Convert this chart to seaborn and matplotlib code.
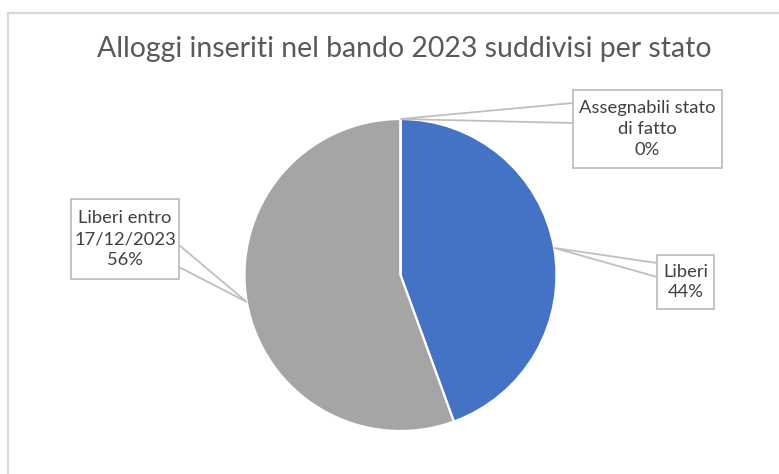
import numpy as np
import matplotlib
matplotlib.use("Agg")
import matplotlib.pyplot as plt
from matplotlib.patches import Rectangle
from matplotlib.lines import Line2D
import seaborn as sns

# Data
categories = ["Liberi", "Liberi entro\n17/12/2023", "Assegnabili stato\ndi fatto"]
values = [16, 20, 0]
colors = ["#4472C4", "#A5A5A5", "#ED7D31"]

sns.set_theme(style="white")
plt.rcParams["font.family"] = ["Lato", "DejaVu Sans"]

W, H = 779, 474
fig = plt.figure(figsize=(W / 100, H / 100), dpi=100)
ax = fig.add_axes([0, 0, 1, 1])

def Y(y):
    return H - y

cx, cy, r = 400.5, Y(275), 156
wedges, _ = ax.pie(values, colors=colors, startangle=90, counterclock=False,
                   center=(cx, cy), radius=r,
                   wedgeprops=dict(edgecolor="white", linewidth=1.6))
ax.set_xlim(0, W)
ax.set_ylim(0, H)
ax.set_aspect("equal")
ax.axis("off")

# chart frame
fig.add_artist(Line2D([8, W], [Y(12.5), Y(12.5)], transform=None,
                      color="#D9D9D9", lw=1.6))
fig.add_artist(Line2D([8, 8], [Y(12.5), 0], transform=None,
                      color="#D9D9D9", lw=1.6))

ax.text(404.5, Y(49), "Alloggi inseriti nel bando 2023 suddivisi per stato",
        ha="center", va="center", fontsize=20.4, color="#595959")

total = sum(values)
# callout boxes: (x0, y0, x1, y1), side of attachment, attachment y-range
callouts = [
    ((657, 255, 714, 309), "left", (263, 277)),
    ((71, 199, 179, 279), "right", (245, 267)),
    ((573, 90, 722, 168), "left", (103, 123)),
]
line_col = "#BFBFBF"
for w, cat, v, (box, side, (a1, a2)) in zip(wedges, categories, values, callouts):
    mid = np.deg2rad((w.theta1 + w.theta2) / 2)
    tip = (cx + r * np.cos(mid), cy + r * np.sin(mid))
    x0, y0, x1, y1 = box
    bx = x0 if side == "left" else x1
    ax.plot([bx, tip[0], bx], [Y(a1), tip[1], Y(a2)], color=line_col, lw=1.3,
            solid_joinstyle="miter", zorder=3)
    ax.add_patch(Rectangle((x0, Y(y1)), x1 - x0, y1 - y0, facecolor="white",
                           edgecolor=line_col, lw=1.3, zorder=4))
    pct = round(100 * v / total)
    ax.text((x0 + x1) / 2, Y((y0 + y1) / 2), f"{cat}\n{pct}%", ha="center",
            va="center", fontsize=13.2, color="#404040", linespacing=1.35,
            zorder=5)

fig.savefig("out.png", dpi=100)
